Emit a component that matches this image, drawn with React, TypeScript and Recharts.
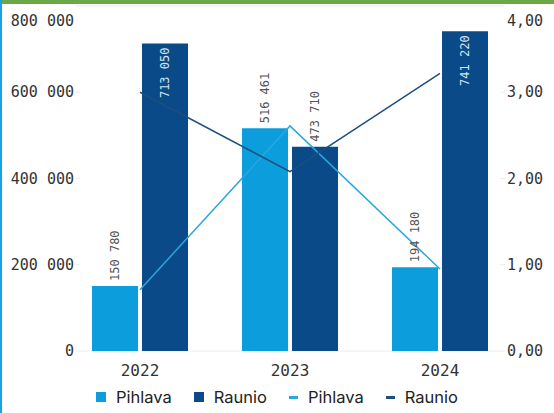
import React from 'react'
import {
  ComposedChart, Bar, Line, XAxis, YAxis, CartesianGrid, Legend,
} from 'recharts'

const years = ['2022', '2023', '2024']
const pihlavaAmount = [150780, 516461, 194180]
const raunioAmount = [713050, 473710, 741220]
const pihlavaRatio = [0.71, 2.61, 0.95]
const raunioRatio = [3.0, 2.08, 3.22]
const leftTicks = [0, 200000, 400000, 600000, 800000]
const rightTicks = [0, 1, 2, 3, 4]

const LIGHT = '#0b9ddc'
const DARK = '#0a4a88'
const LINE_LIGHT = '#2aa6e0'
const LINE_DARK = '#1c4f7e'
const MONO = '"DejaVu Sans Mono", "Liberation Mono", monospace'
const SANS = 'Inter, "Noto Sans", sans-serif'

const data = years.map((y, i) => ({
  year: y,
  pihlava: pihlavaAmount[i],
  raunio: raunioAmount[i],
  pihlavaL: pihlavaRatio[i],
  raunioL: raunioRatio[i],
}))

const fmtThousands = (v: number) => String(Math.round(v)).replace(/\B(?=(\d{3})+(?!\d))/g, ' ')
const fmtRatio = (v: number) => v.toFixed(2).replace('.', ',')

// top label is pushed down so it isn't hidden under the border
function AxisTick(props: any) {
  const { x, y, payload, anchor, fmt, max } = props
  const shift = payload.value === max ? 12 : 0
  return (
    <text x={x} y={y + shift} textAnchor={anchor} dominantBaseline="central"
      fontFamily={MONO} fontSize={15} fill="#333">
      {fmt(payload.value)}
    </text>
  )
}

function BarValue(props: any) {
  const { x, y, width, value } = props
  const cx = x + width / 2
  const inside = value > 650000
  const ty = inside ? y + 4 : y - 5
  return (
    <text x={cx} y={ty} transform={`rotate(-90, ${cx}, ${ty})`}
      textAnchor={inside ? 'end' : 'start'} dominantBaseline="central"
      fontFamily={MONO} fontSize={12} fill={inside ? '#d5e3f0' : '#555'}>
      {fmtThousands(value)}
    </text>
  )
}

const legendItems = [
  { label: 'Pihlava', color: LIGHT, kind: 'box' },
  { label: 'Raunio', color: DARK, kind: 'box' },
  { label: 'Pihlava', color: LINE_LIGHT, kind: 'line' },
  { label: 'Raunio', color: LINE_DARK, kind: 'line' },
]

function LegendBox() {
  return (
    <div style={{ height: 32, display: 'flex', justifyContent: 'center', alignItems: 'center', gap: 22, fontFamily: SANS, fontSize: 16.5, color: '#222' }}>
      {legendItems.map((it, i) => (
        <div key={i} style={{ display: 'flex', alignItems: 'center', gap: 10 }}>
          {it.kind === 'box'
            ? <div style={{ width: 10, height: 10, backgroundColor: it.color }} />
            : <div style={{ width: 9, height: 3, backgroundColor: it.color }} />}
          <span>{it.label}</span>
        </div>
      ))}
    </div>
  )
}

export default function App() {
  return (
    <div style={{ position: 'absolute', left: 0, top: 0, width: 554, height: 413, background: '#fff', overflow: 'hidden' }}>
      <ComposedChart width={554} height={413} data={data}
        margin={{ top: 6, right: 0, bottom: 0, left: 0 }}
        barGap={4} barSize={46}>
        <CartesianGrid vertical={false} stroke="#ececec" />
        <XAxis dataKey="year" height={30} axisLine={false} tickLine={false}
          tickSize={0} tickMargin={14} padding={{ left: -15, right: -15 }}
          tick={{ fontFamily: MONO, fontSize: 16, fill: '#333' }} />
        <YAxis yAxisId="left" width={80} domain={[0, 800000]} ticks={leftTicks}
          axisLine={false} tickSize={4} tickMargin={2} tickLine={{ stroke: '#ececec' }}
          tick={<AxisTick anchor="end" fmt={fmtThousands} max={800000} />} />
        <YAxis yAxisId="right" orientation="right" width={54} domain={[0, 4]} ticks={rightTicks}
          axisLine={false} tickSize={5} tickMargin={2} tickLine={{ stroke: '#ececec' }}
          tick={<AxisTick anchor="start" fmt={fmtRatio} max={4} />} />
        <Legend verticalAlign="bottom" content={<LegendBox />} />
        <Bar yAxisId="left" dataKey="pihlava" fill={LIGHT} isAnimationActive={false} label={<BarValue />} />
        <Bar yAxisId="left" dataKey="raunio" fill={DARK} isAnimationActive={false} label={<BarValue />} />
        <Line yAxisId="right" dataKey="pihlavaL" stroke={LINE_LIGHT} strokeWidth={1.5} dot={false} isAnimationActive={false} />
        <Line yAxisId="right" dataKey="raunioL" stroke={LINE_DARK} strokeWidth={1.5} dot={false} isAnimationActive={false} />
      </ComposedChart>
      <div style={{ position: 'absolute', left: 0, top: 0, width: 554, height: 4, background: '#6aa84a' }} />
      <div style={{ position: 'absolute', left: 0, top: 0, width: 2, height: 413, background: '#18a2e6' }} />
    </div>
  )
}
